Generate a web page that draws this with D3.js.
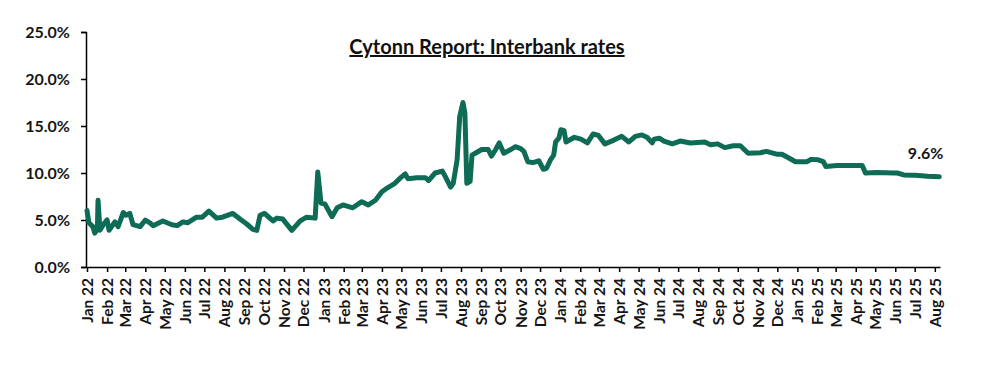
<!DOCTYPE html>
<html>
<head>
<meta charset="utf-8">
<script src="https://cdn.jsdelivr.net/npm/d3@7"></script>
<style>
  html, body { margin: 0; padding: 0; background: #fff; }
  svg { display: block; font-family: Lato, "Open Sans", sans-serif; }
</style>
</head>
<body>
<svg id="chart" width="986" height="368"></svg>
<script>
const title = "Cytonn Report: Interbank rates";
const yTickValues = [0, 0.05, 0.10, 0.15, 0.20, 0.25];
const dates = [
  "2022-01-01","2022-01-04","2022-01-10","2022-01-13","2022-01-17","2022-01-18","2022-01-21","2022-01-27",
  "2022-02-01","2022-02-04","2022-02-08","2022-02-13","2022-02-18","2022-02-26","2022-03-02","2022-03-08",
  "2022-03-13","2022-03-24","2022-04-01","2022-04-08","2022-04-13","2022-04-28","2022-05-12","2022-05-20",
  "2022-05-29","2022-06-05","2022-06-19","2022-06-28","2022-07-08","2022-07-20","2022-07-29","2022-08-14",
  "2022-08-25","2022-09-04","2022-09-14","2022-09-20","2022-09-25","2022-10-02","2022-10-10","2022-10-15",
  "2022-10-21","2022-10-30","2022-11-13","2022-11-26","2022-12-06","2022-12-19","2022-12-23","2022-12-28",
  "2023-01-03","2023-01-14","2023-01-22","2023-01-31","2023-02-15","2023-03-01","2023-03-11","2023-03-22",
  "2023-04-01","2023-04-09","2023-04-21","2023-04-29","2023-05-07","2023-05-11","2023-05-25","2023-06-07",
  "2023-06-12","2023-06-22","2023-07-03","2023-07-08","2023-07-16","2023-07-20","2023-07-26","2023-07-30",
  "2023-08-04","2023-08-07","2023-08-10","2023-08-15","2023-08-18","2023-08-23","2023-09-02","2023-09-12",
  "2023-09-17","2023-09-23","2023-09-29","2023-10-06","2023-10-17","2023-10-24","2023-11-01","2023-11-06",
  "2023-11-12","2023-11-20","2023-11-29","2023-12-06","2023-12-11","2023-12-17","2023-12-22","2023-12-25",
  "2023-12-30","2024-01-02","2024-01-07","2024-01-10","2024-01-23","2024-02-02","2024-02-12","2024-02-21",
  "2024-02-29","2024-03-10","2024-03-24","2024-04-05","2024-04-16","2024-04-26","2024-05-06","2024-05-14",
  "2024-05-22","2024-05-25","2024-06-02","2024-06-09","2024-06-22","2024-07-04","2024-07-20","2024-08-11",
  "2024-08-20","2024-08-31","2024-09-11","2024-09-24","2024-10-05","2024-10-17","2024-11-05","2024-11-14",
  "2024-11-30","2024-12-08","2024-12-16","2024-12-29","2025-01-16","2025-01-22","2025-02-02","2025-02-10",
  "2025-02-14","2025-03-03","2025-03-23","2025-04-11","2025-04-16","2025-05-04","2025-05-29","2025-06-04",
  "2025-06-14","2025-07-02","2025-07-21","2025-08-08"
];
const rates = [
  6.0,4.7,4.3,3.6,4.0,7.1,3.9,4.6,
  5.0,3.9,4.3,4.8,4.3,5.8,5.5,5.7,
  4.5,4.3,5.0,4.7,4.4,4.9,4.5,4.4,
  4.8,4.7,5.3,5.3,5.95,5.2,5.3,5.7,
  5.1,4.6,4.0,3.9,5.5,5.7,5.2,4.9,
  5.2,5.1,3.9,4.9,5.3,5.2,10.1,6.8,
  6.7,5.35,6.3,6.6,6.3,6.95,6.6,7.1,
  8.0,8.4,8.9,9.45,9.9,9.4,9.5,9.5,
  9.2,10.0,10.2,9.6,8.5,8.9,11.4,16.0,
  17.5,16.4,8.9,9.1,11.9,12.1,12.5,12.5,
  11.8,12.45,13.2,12.1,12.5,12.8,12.6,12.3,
  11.2,11.1,11.3,10.4,10.5,11.4,11.9,13.3,
  13.7,14.6,14.5,13.3,13.8,13.6,13.2,14.15,
  14.0,13.1,13.5,13.9,13.3,13.9,14.05,13.8,
  13.2,13.6,13.7,13.4,13.1,13.4,13.2,13.3,
  13.0,13.1,12.7,12.9,12.9,12.1,12.15,12.3,
  12.0,12.0,11.7,11.2,11.2,11.45,11.4,11.2,
  10.7,10.8,10.8,10.8,10.0,10.05,10.0,10.0,
  9.8,9.75,9.65,9.6
];
const lastLabel = "9.6%";

const parse = d3.timeParse("%Y-%m-%d");
const data = dates.map((d, i) => ({ date: parse(d), value: rates[i] / 100 }));

const svg = d3.select("#chart");
const mLeft = 87, mRight = 940, mTop = 32, mBottom = 267;

const x = d3.scaleTime()
  .domain([parse("2022-01-01"), parse("2025-08-09")])
  .range([mLeft, mRight]);
const y = d3.scaleLinear().domain([0, 0.25]).range([mBottom, mTop]);

// Title
svg.append("text")
  .attr("x", 487).attr("y", 54)
  .attr("text-anchor", "middle")
  .attr("font-size", 20).attr("font-weight", "bold")
  .attr("fill", "#111")
  .attr("text-decoration", "underline")
  .text(title);

// Y axis
const yAxis = svg.append("g")
  .attr("transform", `translate(${mLeft - 1},0)`)
  .call(d3.axisLeft(y).tickValues(yTickValues).tickFormat(d3.format(".1%")).tickSize(5).tickPadding(11));
yAxis.select(".domain").attr("stroke", "#000").attr("stroke-width", 1.5);
yAxis.selectAll(".tick line").attr("stroke", "#000").attr("stroke-width", 1.5);
yAxis.selectAll(".tick text")
  .attr("font-size", 16).attr("font-weight", "bold").attr("fill", "#151515")
  .attr("font-family", "Lato, 'Open Sans', sans-serif");

// X axis
const xAxis = svg.append("g")
  .attr("transform", `translate(0,${mBottom})`)
  .call(d3.axisBottom(x).ticks(d3.timeMonth.every(1)).tickFormat(d3.timeFormat("%b %y")).tickSize(5).tickSizeOuter(0));
xAxis.select(".domain").attr("stroke", "#000").attr("stroke-width", 1.5);
xAxis.selectAll(".tick line").attr("stroke", "#000").attr("stroke-width", 1.5);
xAxis.selectAll(".tick text")
  .attr("font-size", 15.5).attr("font-weight", "bold").attr("fill", "#151515")
  .attr("font-family", "Lato, 'Open Sans', sans-serif")
  .attr("text-anchor", "end")
  .attr("transform", "rotate(-90)")
  .attr("x", -11).attr("y", 0).attr("dy", "0.35em");

// Line
const line = d3.line().x(d => x(d.date)).y(d => y(d.value)).curve(d3.curveLinear);
svg.append("path")
  .datum(data)
  .attr("fill", "none")
  .attr("stroke", "#0d6b56")
  .attr("stroke-width", 5)
  .attr("stroke-linejoin", "round")
  .attr("stroke-linecap", "round")
  .attr("d", line);

// Last value label
const last = data[data.length - 1];
svg.append("text")
  .attr("x", x(last.date) + 4).attr("y", y(last.value) - 18)
  .attr("text-anchor", "end")
  .attr("font-size", 16).attr("font-weight", "bold").attr("fill", "#151515")
  .text(lastLabel);
</script>
</body>
</html>
